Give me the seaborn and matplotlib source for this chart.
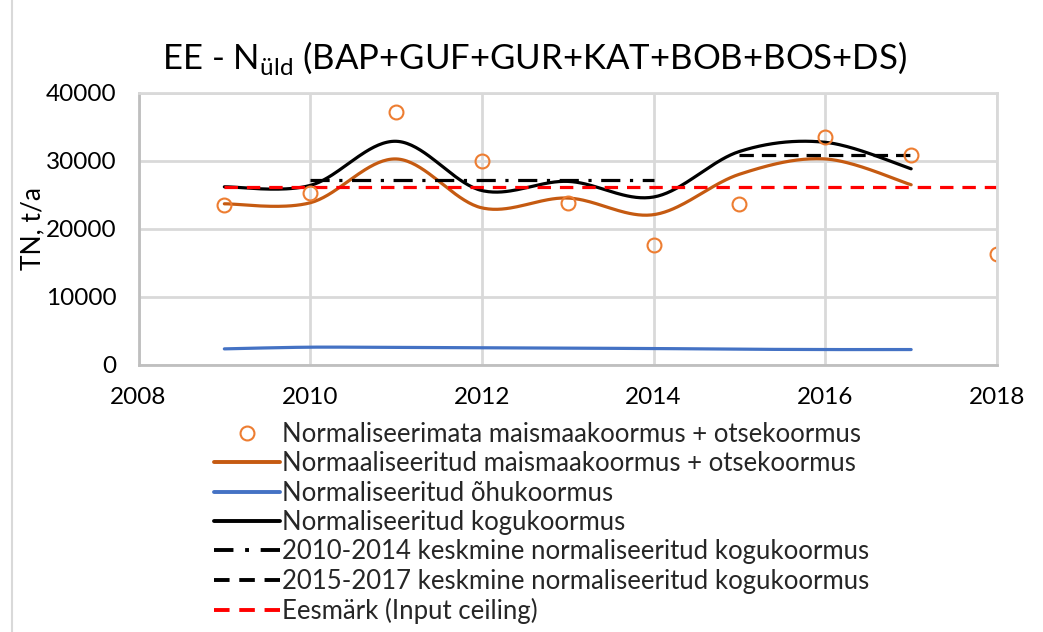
import numpy as np
import seaborn as sns
import matplotlib.pyplot as plt
from matplotlib.lines import Line2D

# data
years = [2009, 2010, 2011, 2012, 2013, 2014, 2015, 2016, 2017, 2018]
raw_load = [23400, 25300, 37200, 30000, 23800, 17550, 23550, 33550, 30800, 16200]

norm_years = [2009, 2010, 2011, 2012, 2013, 2014, 2015, 2016, 2017]
norm_land = [23650, 23800, 30250, 23050, 24500, 22050, 28000, 30250, 26450]
norm_air = [2300, 2550, 2500, 2450, 2400, 2350, 2250, 2200, 2200]
norm_total = [26150, 26350, 32850, 25600, 26950, 24650, 31350, 32700, 28800]

mean_1014_years = [2010, 2014]
mean_1014 = [27200, 27200]
mean_1517_years = [2015, 2017]
mean_1517 = [30900, 30900]
ceiling_years = [2009, 2018]
ceiling = [26150, 26150]

labels = ['Normaliseerimata maismaakoormus + otsekoormus',
          'Normaaliseeritud maismaakoormus + otsekoormus',
          'Normaliseeritud õhukoormus',
          'Normaliseeritud kogukoormus',
          '2010-2014 keskmine normaliseeritud kogukoormus',
          '2015-2017 keskmine normaliseeritud kogukoormus',
          'Eesmärk (Input ceiling)']


def smooth(x, y, n=40):
    # Excel style smoothed line (Catmull-Rom bezier)
    p = np.column_stack([x, y]).astype(float)
    out = []
    for i in range(len(p) - 1):
        p0 = p[i - 1] if i > 0 else p[i]
        p1, p2 = p[i], p[i + 1]
        p3 = p[i + 2] if i + 2 < len(p) else p[i + 1]
        c1 = p1 + (p2 - p0) / 6
        c2 = p2 - (p3 - p1) / 6
        t = np.linspace(0, 1, n)[:, None]
        seg = ((1 - t) ** 3) * p1 + 3 * ((1 - t) ** 2) * t * c1 + 3 * (1 - t) * t ** 2 * c2 + t ** 3 * p2
        out.append(seg if i == 0 else seg[1:])
    out = np.vstack(out)
    return out[:, 0], out[:, 1]


sns.set_theme(style='whitegrid')
plt.rcParams['font.family'] = ['Lato', 'DejaVu Sans']
plt.rcParams['mathtext.fontset'] = 'custom'
plt.rcParams['mathtext.rm'] = 'Lato'

fig = plt.figure(figsize=(10.43, 6.32), dpi=100)
ax = fig.add_axes([138.5 / 1043, 1 - 364.5 / 632, (997 - 138.5) / 1043, (364.5 - 92.7) / 632])

orange = '#C55A11'
lw = 2.3

sx, sy = smooth(norm_years, norm_land)
sns.lineplot(x=sx, y=sy, ax=ax, color=orange, lw=lw, sort=False, estimator=None)
sx, sy = smooth(norm_years, norm_air)
sns.lineplot(x=sx, y=sy, ax=ax, color='#4472C4', lw=lw, sort=False, estimator=None)
sx, sy = smooth(norm_years, norm_total)
sns.lineplot(x=sx, y=sy, ax=ax, color='black', lw=lw, sort=False, estimator=None)

ax.plot(mean_1014_years, mean_1014, color='black', lw=lw, dashes=(6, 3, 1, 3))
ax.plot(mean_1517_years, mean_1517, color='black', lw=lw, dashes=(4.5, 2.5))
ax.plot(ceiling_years, ceiling, color='#FF0000', lw=lw, dashes=(4.2, 2.8))

ax.plot(years, raw_load, ls='none', marker='o', ms=10, mfc='none', mec='#ED7D31', mew=1.5)

ax.set_xlim(2008, 2018)
ax.set_ylim(0, 40000)
ax.set_xticks(range(2008, 2019, 2))
ax.set_yticks(range(0, 40001, 10000))
ax.grid(True, color='#D9D9D9', lw=2)
for s in ax.spines.values():
    s.set_visible(True)
    s.set_color('#BFBFBF')
    s.set_linewidth(2)
ax.spines['top'].set_color('#D9D9D9')
ax.spines['right'].set_color('#D9D9D9')
ax.tick_params(axis='both', length=0, labelsize=17.5, colors='black')
ax.tick_params(axis='y', pad=16)
ax.tick_params(axis='x', pad=16)
ax.set_ylabel('TN, t/a', fontsize=19, color='black', labelpad=0)
ax.set_xlabel('')

fig.text(534 / 1043, 1 - 58 / 632, 'EE - N$_{\\mathregular{üld}}$ (BAP+GUF+GUR+KAT+BOB+BOS+DS)',
         fontsize=25, color='black', ha='center', va='center')

handles = [
    Line2D([], [], ls='none', marker='o', ms=10, mfc='none', mec='#ED7D31', mew=1.5),
    Line2D([], [], color=orange, lw=2.8),
    Line2D([], [], color='#4472C4', lw=2.8),
    Line2D([], [], color='black', lw=2.8),
    Line2D([], [], color='black', lw=2.8, dashes=(5, 3, 1, 3)),
    Line2D([], [], color='black', lw=2.8, dashes=(4, 2.5)),
    Line2D([], [], color='#FF0000', lw=2.8, dashes=(4, 2.5)),
]
fig.legend(handles, labels, loc='upper left', bbox_to_anchor=(214 / 1043, 1 - 422 / 632),
           frameon=False, fontsize=18.5, handlelength=2.55, handletextpad=0.08,
           labelspacing=0.17, borderpad=0, borderaxespad=0)

fig.add_artist(Line2D([12 / 1043, 12 / 1043], [0, 1], color='#D9D9D9', lw=1.5))

fig.savefig('out.png', dpi=100)
